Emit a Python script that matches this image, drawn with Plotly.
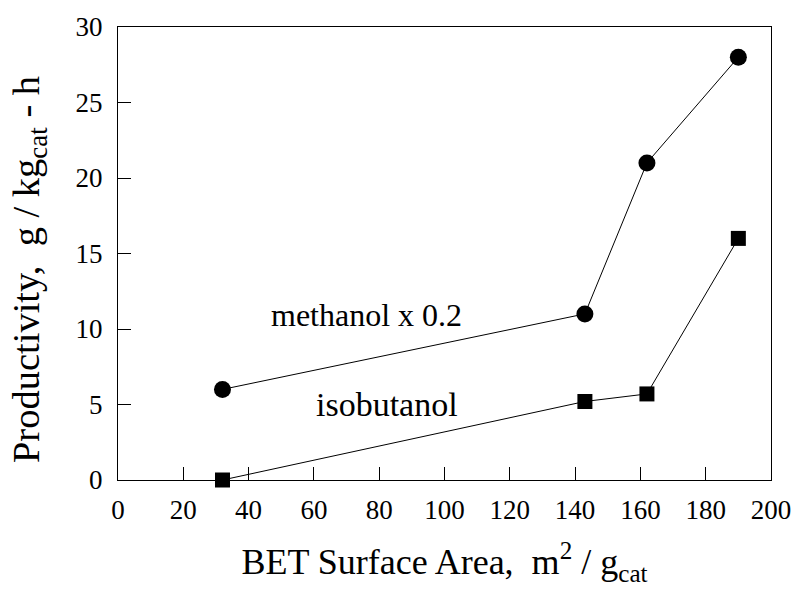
import plotly.graph_objects as go

# BET surface area of each catalyst (m^2/g_cat)
surface_area = [32, 143, 162, 190]
# Productivities (g / kg_cat - h)
methanol_x02 = [6.0, 11.0, 21.0, 28.0]
isobutanol = [0.0, 5.2, 5.7, 16.0]

x_ticks = [0, 20, 40, 60, 80, 100, 120, 140, 160, 180, 200]
y_ticks = [0, 5, 10, 15, 20, 25, 30]

FONT = "Liberation Serif, Times New Roman, serif"

fig = go.Figure()
fig.add_trace(go.Scatter(
    x=surface_area, y=methanol_x02, mode="lines+markers",
    line=dict(color="black", width=1),
    marker=dict(symbol="circle", size=17, color="black"),
    showlegend=False, cliponaxis=False,
))
fig.add_trace(go.Scatter(
    x=surface_area, y=isobutanol, mode="lines+markers",
    line=dict(color="black", width=1),
    marker=dict(symbol="square", size=15, color="black"),
    showlegend=False, cliponaxis=False,
))

# series labels
fig.add_annotation(x=76, y=10.9, text="methanol x 0.2", showarrow=False,
                   font=dict(family=FONT, size=32, color="black"))
fig.add_annotation(x=82.5, y=5.0, text="isobutanol", showarrow=False,
                   font=dict(family=FONT, size=34, color="black"))

# y-axis title, placed as a rotated paper annotation
fig.add_annotation(x=-0.175, y=0.465, xref="paper", yref="paper",
                   text="Productivity,  g / kg<sub>cat</sub> - h",
                   textangle=-90, showarrow=False,
                   font=dict(family=FONT, size=38.5, color="black"))

axis_common = dict(
    showline=True, linecolor="black", linewidth=1, mirror=True,
    ticks="inside", ticklen=13, tickcolor="black", tickwidth=1,
    showgrid=False, zeroline=False,
    tickfont=dict(family=FONT, size=27, color="black"),
)

fig.update_xaxes(
    range=[0, 200], tickvals=x_ticks, ticklabelstandoff=6,
    title=dict(text="BET Surface Area,  m<sup>2</sup> / g<sub>cat</sub>",
               font=dict(family=FONT, size=36, color="black"), standoff=24),
    **axis_common,
)
fig.update_yaxes(
    range=[0, 30], tickvals=y_ticks, ticklabelstandoff=9,
    **axis_common,
)

fig.update_layout(
    width=803, height=592,
    margin=dict(l=118, r=23, t=22, b=112),
    plot_bgcolor="white", paper_bgcolor="white",
)

fig.write_html("out.html")
